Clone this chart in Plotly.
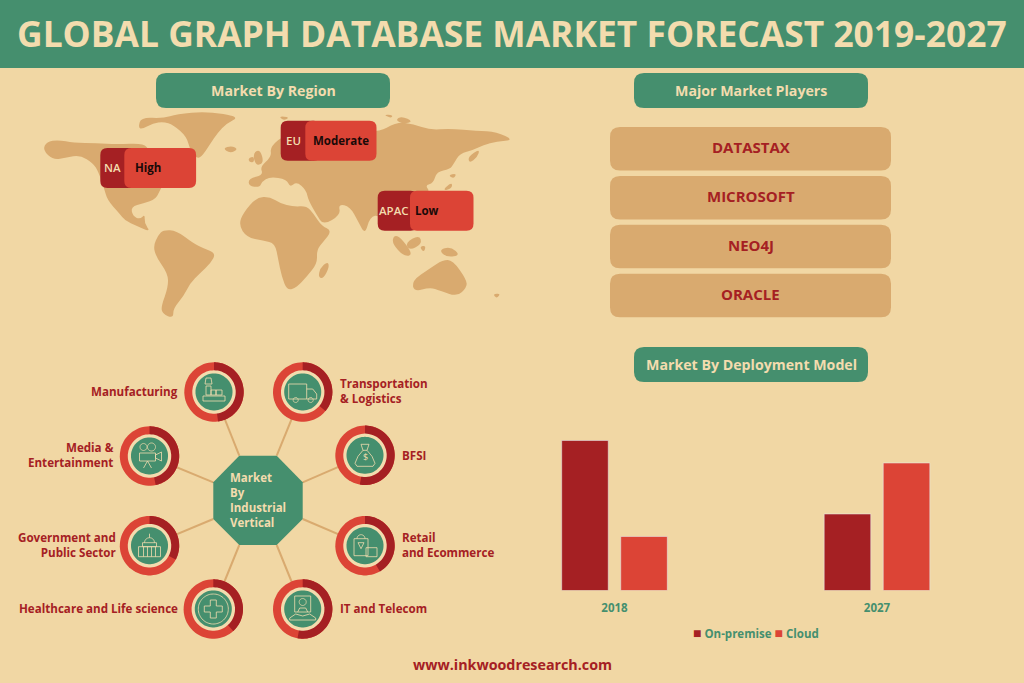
import numpy as np
import plotly.graph_objects as go

BG = "#f1d7a4"
GREEN = "#458f6e"
DARK = "#a52023"
RED = "#dc4436"
TAN = "#d9aa6f"
CREAM = "#f3dcae"
FONT = "Open Sans"

# chart data
years = ["2018", "2027"]
on_premise = [100, 51]
cloud = [36, 85]

# text
title = "GLOBAL GRAPH DATABASE MARKET FORECAST 2019-2027"
players = ["DATASTAX", "MICROSOFT", "NEO4J", "ORACLE"]
regions = ["NA", "EU", "APAC"]
region_levels = ["High", "Moderate", "Low"]
verticals = ["Manufacturing", "Media &<br>Entertainment", "Government and<br>Public Sector",
             "Healthcare and Life science", "Transportation<br>& Logistics", "BFSI",
             "Retail<br>and Ecommerce", "IT and Telecom"]
# how far the dark part of each ring runs, degrees clockwise from the top
ring_dark = [172, 168, 118, 138, 130, 190, 150, 190]

# world map outlines (3x zoom coordinates)
LAND = [
    [(38,150),(50,125),(85,120),(130,128),(200,130),(260,133),(342,130),(356,150),(400,180),(420,230),(392,264),(378,298),
     (340,310),(303,320),(308,348),(330,358),(345,342),(343,370),(362,396),(320,378),(285,362),(268,340),(232,300),(222,264),
     (205,215),(190,190),(150,165),(110,172),(70,180)],
    [(325,82),(333,52),(400,55),(440,42),(530,34),(630,50),(590,70),(562,100),(542,130),(512,174),(497,172),(480,150),
     (470,110),(430,75),(400,65),(370,70),(335,88)],
    [(400,390),(440,392),(490,430),(520,445),(558,460),(542,490),(510,520),(480,550),(460,590),(430,625),(430,655),
     (398,642),(393,620),(415,560),(413,520),(378,470),(370,438),(385,405)],
    [(680,292),(720,290),(750,310),(790,320),(830,318),(850,340),(875,378),(906,392),(880,425),(860,450),(862,490),
     (830,530),(800,562),(772,572),(755,530),(745,480),(735,430),(700,422),(650,412),(626,375),(640,338)],
    [(656,235),(700,225),(690,200),(725,170),(720,140),(770,100),(900,80),(1040,100),(1100,66),(1150,72),(1200,90),
     (1260,86),(1340,92),(1400,96),(1452,120),(1400,125),(1360,135),(1330,150),(1290,160),(1272,190),(1260,208),
     (1220,215),(1210,250),(1185,255),(1202,278),(1140,300),(1075,400),(1050,345),(1020,350),(1005,405),(985,365),
     (960,320),(925,312),(932,345),(880,375),(860,345),(835,300),(828,270),(800,245),(780,262),(770,238),(720,230),
     (695,245),(690,262),(656,258)],
    [(578,145),(605,137),(625,148),(600,160)],
    [(655,175),(672,168),(672,188),(658,186)],
    [(668,160),(690,148),(702,188),(678,198)],
    [(893,484),(898,502),(880,536),(865,532),(870,505)],
    [(1350,146),(1342,172),(1318,190),(1314,170)],
    [(1254,226),(1280,220),(1272,236)],
    [(1236,272),(1266,246),(1266,266)],
    [(1092,405),(1112,412),(1150,464),(1122,470),(1086,430)],
    [(1126,428),(1168,405),(1176,432),(1138,452)],
    [(1168,440),(1188,436),(1182,458)],
    [(1226,450),(1262,440),(1292,466),(1250,472)],
    [(1146,542),(1200,505),(1238,480),(1268,480),(1310,540),(1310,562),(1282,590),(1230,572),(1200,562),(1152,575)],
    [(1388,582),(1412,580),(1400,596)],
    [(1060,43),(1090,45),(1082,55)],
    [(1096,60),(1115,48),(1150,65),(1120,72)],
    [(746,48),(780,52),(760,62)],
]


def map_xy(p):
    return 30 + p[0] / 3, 100 + p[1] / 3


def poly(points, closed=True):
    s = "M" + " L".join(f"{x:.1f},{y:.1f}" for x, y in points)
    return s + (" Z" if closed else "")


def smooth(points):
    # closed curve through the midpoints, so the coasts do not look cut with scissors
    pts = np.array(points, dtype=float)
    mids = (pts + np.roll(pts, -1, axis=0)) / 2
    s = f"M{mids[-1][0]:.1f},{mids[-1][1]:.1f}"
    for p, m in zip(pts, mids):
        s += f" Q{p[0]:.1f},{p[1]:.1f} {m[0]:.1f},{m[1]:.1f}"
    return s + " Z"


def arc(cx, cy, r, a0=0, a1=360, n=72):
    t = np.radians(np.linspace(a0, a1, n))
    return list(zip(cx + r * np.sin(t), cy - r * np.cos(t)))


def rounded(x0, y0, x1, y1, r):
    return (f"M{x0+r},{y0} L{x1-r},{y0} Q{x1},{y0} {x1},{y0+r} L{x1},{y1-r} Q{x1},{y1} {x1-r},{y1} "
            f"L{x0+r},{y1} Q{x0},{y1} {x0},{y1-r} L{x0},{y0+r} Q{x0},{y0} {x0+r},{y0} Z")


shapes = []


def add(path, fill=None, line=None, width=1):
    shapes.append(dict(type="path", xref="x2", yref="y2", path=path, fillcolor=fill or "rgba(0,0,0,0)",
                       line=dict(color=line or "rgba(0,0,0,0)", width=width if line else 0), layer="above"))


notes = []


def text(x, y, s, size=12, color=DARK, anchor="center", weight=700):
    notes.append(dict(x=x, y=y, xref="x2", yref="y2", text=s, showarrow=False, xanchor=anchor, yanchor="middle",
                      align=anchor if anchor != "center" else "center",
                      font=dict(family=FONT, size=size, color=color, weight=weight)))


def box(x0, y0, x1, y1):
    return [(x0, y0), (x1, y0), (x1, y1), (x0, y1), (x0, y0)]


# small line icons inside the rings, offsets from the ring centre
ICONS = [
    [[(-8,-14),(-3,-14),(-2,-8),(-9,-8),(-8,-14)], box(-8,-6,-3,3), box(-3,-2,2,3), box(2,-2,8,3), box(-11,4,11,9)],
    [arc(-6,-9,3.5), arc(2,-9,4), box(-10,-3,6,5), [(6,-1),(12,-4),(12,5),(6,2),(6,-1)], [(-6,12),(-2,5),(2,12)]],
    [arc(0,-3,5,-90,90,20), [(0,-8),(0,-12)], box(-7,-3,7,1), box(-11,1,11,11), [(-6,1),(-6,11)], [(-2,1),(-2,11)],
     [(2,1),(2,11)], [(6,1),(6,11)]],
    [arc(0,0,15), [(-3,-9),(3,-9),(3,-3),(9,-3),(9,3),(3,3),(3,9),(-3,9),(-3,3),(-9,3),(-9,-3),(-3,-3),(-3,-9)]],
    [box(-14,-8,4,7), [(4,-3),(10,-3),(14,2),(14,7),(4,7)], arc(-7,8,2.5), arc(8,8,2.5)],
    [[(-4,-11),(4,-11),(2,-5),(-2,-5),(-4,-11)],
     [(-2,-5),(-7,1),(-10,8),(-8,11),(8,11),(10,8),(7,1),(2,-5)]],
    [box(-11,-7,3,10), arc(-4,-7,4,-90,90,16), box(1,2,12,11), [(-7,-3),(-1,-3),(-4,3),(-7,-3)]],
    [box(-8,-13,8,3), arc(0,-7,3.5), [(-5,3),(-3,-1),(3,-1),(5,3)], [(-13,9),(-7,5),(0,7),(7,5),(13,9),(13,11),(-13,11),(-13,9)]],
]

# background bits
add(rounded(-2, -2, 1026, 68, 0.1), fill=GREEN)
for p, lab in zip([(156, 73), (634, 73), (634, 347)], ["Market By Region", "Major Market Players", "Market By Deployment Model"]):
    add(rounded(p[0], p[1], p[0] + 234, p[1] + 35, 10), fill=GREEN)
    text(p[0] + 117, p[1] + 17, lab, size=14.2, color=CREAM)
text(512, 33, title, size=35.4, color=CREAM)
text(512, 664, "www.inkwoodresearch.com", size=14.3)

# map
for part in LAND:
    add(smooth([map_xy(p) for p in part]), fill=TAN)

# region tags
tag_x = [(100.3, 124.3), (280.7, 305.3), (377.7, 410)]
tag_y = [148, 120.7, 190.7]
tag_w = 95.8
for (x0, xs), y0, reg, lev in zip(tag_x, tag_y, regions, region_levels):
    add(rounded(x0, y0, x0 + 40, y0 + 40, 7), fill=DARK)
    add(rounded(xs, y0, x0 + tag_w, y0 + 40, 7), fill=RED)
    text((x0 + xs) / 2, y0 + 19.5, reg, size=11.5, color=CREAM, weight=600)
    text(xs + 9 if reg == "NA" else xs + 5.5 if reg == "EU" else xs + 3, y0 + 19.5, lev, size=11.5, color="#1a0a08", anchor="left")

# players
for i, name in enumerate(players):
    y0 = 127 + i * 48.9
    add(rounded(610, y0, 891, y0 + 43.5, 10), fill=TAN)
    text(750.5, y0 + 20, name, size=15)

# vertical hub
centers = [(214, 392), (149.5, 456), (149.5, 545.7), (213.3, 609), (302.7, 392), (365, 455.3), (365, 545.7), (302.7, 609)]
hub_pts = [(239.3, 455.7), (213.3, 482.3), (213.3, 519), (239.3, 545), (276.7, 455.7), (302.7, 482.3), (302.7, 519), (276.7, 545)]
for c, h in zip(centers, hub_pts):
    add(poly([c, h], closed=False), line=TAN, width=2)
add(poly([(239.3, 455.7), (276.7, 455.7), (302.7, 482.3), (302.7, 519), (276.7, 545), (239.3, 545), (213.3, 519), (213.3, 482.3)]), fill=GREEN)
text(227.5, 499.5, "Market<br>By<br>Industrial<br>Vertical", size=11.5, color=CREAM, anchor="left")

for (cx, cy), d, ic in zip(centers, ring_dark, ICONS):
    add(poly(arc(cx, cy, 29.7)), fill=RED)
    add(poly(arc(cx, cy, 29.7, 0, d) + arc(cx, cy, 21, d, 0)), fill=DARK)
    add(poly(arc(cx, cy, 21.7)), fill=CREAM)
    add(poly(arc(cx, cy, 18.5)), fill=GREEN)
    for part in ic:
        add(poly([(cx + a, cy + b) for a, b in part], closed=False), line=CREAM, width=0.8)
text(365, 456, "$", size=9, color=CREAM, weight=400)

label_pos = [(180, 391, "right"), (115.5, 455, "right"), (118, 545, "right"), (180, 608, "right"),
             (338, 391, "left"), (400, 455, "left"), (400, 545, "left"), (338, 608, "left")]
for (x, y, anc), lab in zip(label_pos, verticals):
    text(x, y, lab, size=11.6, anchor=anc)

# legend line under the bars
text(756, 632, f'<span style="color:{DARK};font-size:14px">■</span> On-premise <span style="color:{RED};font-size:14px">■</span> Cloud', size=11.5, color=GREEN)

fig = go.Figure()
fig.add_trace(go.Bar(x=years, y=on_premise, name="On-premise", marker_color=DARK))
fig.add_trace(go.Bar(x=years, y=cloud, name="Cloud", marker_color=RED))

fig.update_layout(
    width=1024, height=683, margin=dict(l=0, r=0, t=0, b=0),
    paper_bgcolor=BG, plot_bgcolor="rgba(0,0,0,0)", showlegend=False,
    barmode="group", bargap=0.55, bargroupgap=0.212,
    xaxis=dict(domain=[483.25 / 1024, 1008.25 / 1024], anchor="y", type="category", range=[-0.5, 1.5], showgrid=False, showline=False,
               ticks="outside", ticklen=7, tickcolor="rgba(0,0,0,0)",
               tickfont=dict(family=FONT, size=11.5, color=GREEN, weight=700)),
    yaxis=dict(domain=[92.5 / 683, 252.5 / 683], anchor="x", range=[0, 106.67], visible=False),
    xaxis2=dict(domain=[0, 1], anchor="y2", range=[0, 1024], visible=False),
    yaxis2=dict(domain=[0, 1], anchor="x2", range=[683, 0], visible=False),
    shapes=shapes, annotations=notes,
)

fig.write_html("out.html", config=dict(displayModeBar=False), post_script="document.body.style.margin='0';")
